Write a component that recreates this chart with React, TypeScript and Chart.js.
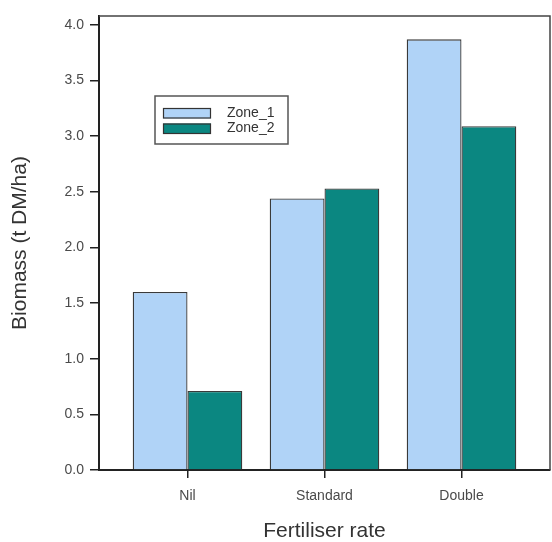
import React, { useEffect, useRef } from "react";
import { Chart, registerables } from "chart.js";

Chart.register(...registerables);

const categories = ["Nil", "Standard", "Double"];
const zone1 = [1.6, 2.44, 3.87];
const zone2 = [0.71, 2.53, 3.09];
const seriesNames = ["Zone_1", "Zone_2"];
const yTickValues = [0, 0.5, 1.0, 1.5, 2.0, 2.5, 3.0, 3.5, 4.0];

const FONT = "'Liberation Sans', Arial, sans-serif";
const COLOR1 = "#B0D3F7";
const COLOR2 = "#0B8781";

const frameAndLegend = {
  id: "frameAndLegend",
  afterDraw(chart: any) {
    const { ctx, chartArea } = chart;
    ctx.save();
    ctx.strokeStyle = "#444";
    ctx.lineWidth = 1.5;
    ctx.beginPath();
    ctx.moveTo(chartArea.left, chartArea.top);
    ctx.lineTo(chartArea.right, chartArea.top);
    ctx.lineTo(chartArea.right, chartArea.bottom);
    ctx.stroke();

    const bx = 155, by = 96, bw = 133, bh = 48;
    ctx.lineWidth = 1.5;
    ctx.strokeStyle = "#555";
    ctx.fillStyle = "#fff";
    ctx.fillRect(bx, by, bw, bh);
    ctx.strokeRect(bx, by, bw, bh);
    const ds = chart.data.datasets;
    ds.forEach((d: any, i: number) => {
      const sy = by + 12 + i * 15.5;
      ctx.fillStyle = d.backgroundColor;
      ctx.fillRect(163, sy, 48, 10.5);
      ctx.lineWidth = 1.2;
      ctx.strokeStyle = "#333";
      ctx.strokeRect(163.5, sy + 0.5, 47, 9.5);
      ctx.fillStyle = "#333";
      ctx.font = `14px ${FONT}`;
      ctx.textBaseline = "middle";
      ctx.textAlign = "left";
      ctx.fillText(d.label, 227, sy + 5);
    });
    ctx.restore();
  },
};

export default function App() {
  const ref = useRef<HTMLCanvasElement>(null);
  useEffect(() => {
    document.body.style.margin = "0";
    const canvas = ref.current!;
    const chart = new Chart(canvas, {
      type: "bar",
      data: {
        datasets: [
          {
            label: seriesNames[0],
            data: categories.map((_, i) => ({ x: i + 1, y: zone1[i] })),
            backgroundColor: COLOR1,
            borderColor: "#3a3a3a",
            borderWidth: 1.3,
            categoryPercentage: 0.8,
            barPercentage: 1.0,
          },
          {
            label: seriesNames[1],
            data: categories.map((_, i) => ({ x: i + 1, y: zone2[i] })),
            backgroundColor: COLOR2,
            borderColor: "#3a3a3a",
            borderWidth: 1.3,
            categoryPercentage: 0.8,
            barPercentage: 1.0,
          },
        ],
      } as any,
      options: {
        responsive: false,
        maintainAspectRatio: false,
        animation: false,
        layout: { padding: { top: 16, right: 2, left: 0, bottom: 0 } },
        plugins: { legend: { display: false }, tooltip: { enabled: false } },
        scales: {
          x: {
            type: "linear",
            offset: false,
            min: 0.354,
            max: 3.646,
            afterBuildTicks: (scale: any) => {
              scale.ticks = categories.map((_, i) => ({ value: i + 1 }));
            },
            afterFit: (scale: any) => {
              scale.height = 72;
            },
            ticks: {
              autoSkip: false,
              maxRotation: 0,
              padding: 10,
              color: "#4a4a4a",
              font: { family: FONT, size: 14 },
              callback: (v: any) => categories[Math.round(Number(v)) - 1] ?? "",
            },
            grid: { offset: false, drawOnChartArea: false, drawTicks: true, tickLength: 8, color: "#222", lineWidth: 1.5 },
            border: { display: true, color: "#222", width: 2 },
            title: {
              display: true,
              text: "Fertiliser rate",
              color: "#333",
              font: { family: FONT, size: 21, lineHeight: 1.0 },
              padding: { top: 0, bottom: 0 },
            },
          },
          y: {
            min: 0,
            max: 4.08,
            afterBuildTicks: (scale: any) => {
              scale.ticks = yTickValues.map((v) => ({ value: v }));
            },
            afterFit: (scale: any) => {
              scale.width = 99;
            },
            ticks: {
              padding: 6,
              color: "#4a4a4a",
              font: { family: FONT, size: 14 },
              callback: (v: any) => Number(v).toFixed(1),
            },
            grid: { drawOnChartArea: false, drawTicks: true, tickLength: 9, color: "#222", lineWidth: 1.5 },
            border: { display: true, color: "#222", width: 2 },
            title: {
              display: true,
              text: "Biomass (t DM/ha)",
              color: "#333",
              font: { family: FONT, size: 21 },
              padding: { top: 8, bottom: 0 },
            },
          },
        },
      },
      plugins: [frameAndLegend],
    } as any);
    return () => chart.destroy();
  }, []);
  return <canvas ref={ref} width={552} height={542} style={{ display: "block", width: 552, height: 542 }} />;
}
